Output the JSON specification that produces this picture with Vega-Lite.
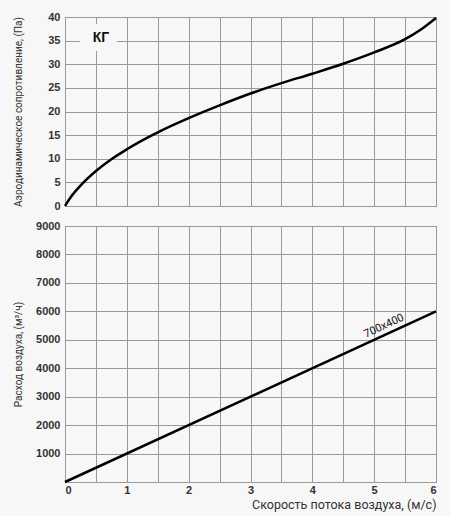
{
  "$schema": "https://vega.github.io/schema/vega-lite/v6.json",
  "background": "#f7f7f7",
  "padding": {"left": 12, "top": 10, "right": 12, "bottom": 5},
  "spacing": 7,
  "config": {
    "view": {"stroke": "#666666", "strokeWidth": 1, "fill": "#f7f7f7"},
    "axis": {
      "grid": true,
      "gridColor": "#9a9a9a",
      "gridOpacity": 1,
      "gridWidth": 1,
      "domain": false,
      "ticks": false,
      "labelFont": "Liberation Sans",
      "labelFontSize": 11,
      "labelFontWeight": "bold",
      "labelColor": "#333333",
      "labelPadding": 5,
      "titleFont": "Roboto",
      "titleFontSize": 10,
      "titleFontWeight": "normal",
      "titleColor": "#333333"
    }
  },
  "datasets": {
    "resistance": [
      {"v": 0, "p": 0},
      {"v": 0.1, "p": 2.0},
      {"v": 0.25, "p": 4.3},
      {"v": 0.5, "p": 7.4},
      {"v": 0.75, "p": 9.9},
      {"v": 1, "p": 12.0},
      {"v": 1.25, "p": 13.9},
      {"v": 1.5, "p": 15.6},
      {"v": 2, "p": 18.6},
      {"v": 2.5, "p": 21.3},
      {"v": 3, "p": 23.8},
      {"v": 3.5, "p": 26.0},
      {"v": 4, "p": 28.0},
      {"v": 4.5, "p": 30.1},
      {"v": 5, "p": 32.5},
      {"v": 5.5, "p": 35.3},
      {"v": 5.75, "p": 37.3},
      {"v": 6, "p": 39.8}
    ],
    "flow": [
      {"v": 0, "q": 0},
      {"v": 6, "q": 6000}
    ],
    "flowLabel": [
      {"v": 5.16, "q": 5480, "text": "700x400"}
    ],
    "kgBox": [
      {"x1": 0.24, "x2": 0.84, "y1": 32.8, "y2": 38.5, "text": "КГ", "xc": 0.58, "yc": 35.6}
    ]
  },
  "vconcat": [
    {
      "width": 371,
      "height": 189,
      "layer": [
        {
          "data": {"name": "resistance"},
          "mark": {"type": "line", "color": "#000000", "strokeWidth": 2.5, "interpolate": "monotone"},
          "encoding": {
            "x": {
              "field": "v", "type": "quantitative",
              "scale": {"domain": [0, 6], "nice": false},
              "axis": {"values": [0, 0.5, 1, 1.5, 2, 2.5, 3, 3.5, 4, 4.5, 5, 5.5, 6], "tickCount": 30, "labels": false, "title": null}
            },
            "y": {
              "field": "p", "type": "quantitative",
              "scale": {"domain": [0, 40], "nice": false},
              "axis": {"values": [0, 5, 10, 15, 20, 25, 30, 35, 40], "tickCount": 30, "title": "Аэродинамическое сопротивление, (Па)", "titleX": -42}
            }
          }
        },
        {
          "data": {"name": "kgBox"},
          "mark": {"type": "rect", "fill": "#f7f7f7"},
          "encoding": {
            "x": {"field": "x1", "type": "quantitative"},
            "x2": {"field": "x2"},
            "y": {"field": "y1", "type": "quantitative"},
            "y2": {"field": "y2"}
          }
        },
        {
          "data": {"name": "kgBox"},
          "mark": {"type": "text", "font": "Liberation Sans", "fontSize": 14, "fontWeight": "bold", "color": "#111111", "align": "center", "baseline": "middle"},
          "encoding": {
            "x": {"field": "xc", "type": "quantitative"},
            "y": {"field": "yc", "type": "quantitative"},
            "text": {"field": "text"}
          }
        }
      ]
    },
    {
      "width": 371,
      "height": 256,
      "layer": [
        {
          "data": {"name": "flow"},
          "mark": {"type": "line", "color": "#000000", "strokeWidth": 2.5},
          "encoding": {
            "x": {
              "field": "v", "type": "quantitative",
              "scale": {"domain": [0, 6], "nice": false},
              "axis": {
                "values": [0, 0.5, 1, 1.5, 2, 2.5, 3, 3.5, 4, 4.5, 5, 5.5, 6],
                "tickCount": 30,
                "labelPadding": 2,
                "labelExpr": "datum.value % 1 === 0 ? format(datum.value, 'd') : ''",
                "title": "Скорость потока воздуха, (м/с)",
                "titleFontSize": 12.5,
                "titleAnchor": "end",
                "titlePadding": 3
              }
            },
            "y": {
              "field": "q", "type": "quantitative",
              "scale": {"domain": [0, 9000], "nice": false},
              "axis": {
                "values": [0, 1000, 2000, 3000, 4000, 5000, 6000, 7000, 8000, 9000],
                "tickCount": 30,
                "format": "d",
                "labelExpr": "datum.value === 0 ? '' : datum.label",
                "title": "Расход воздуха, (м³/ч)",
                "titleX": -42
              }
            }
          }
        },
        {
          "data": {"name": "flowLabel"},
          "mark": {"type": "text", "font": "Roboto", "fontSize": 11, "angle": -25, "color": "#111111", "align": "center", "baseline": "middle"},
          "encoding": {
            "x": {"field": "v", "type": "quantitative"},
            "y": {"field": "q", "type": "quantitative"},
            "text": {"field": "text"}
          }
        }
      ]
    }
  ]
}
